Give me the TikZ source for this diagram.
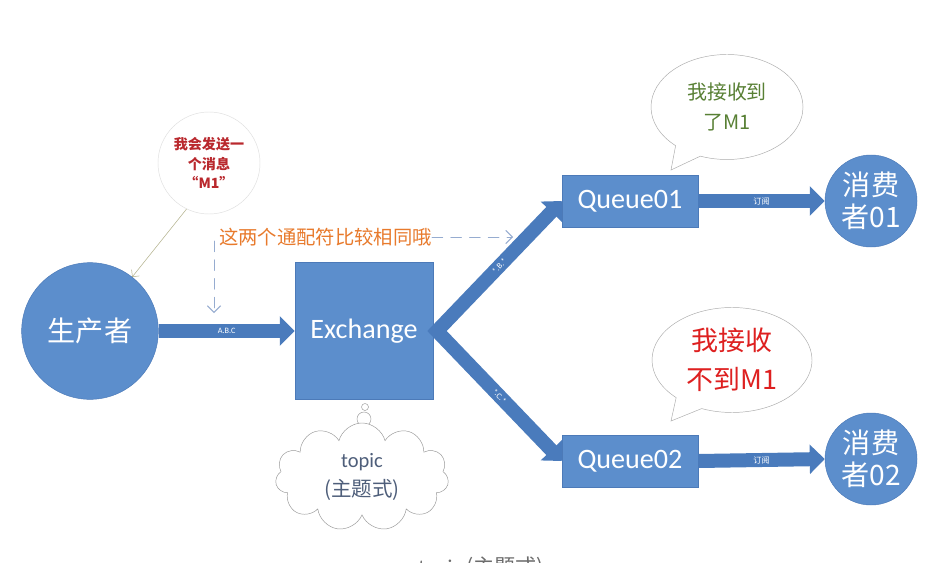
\documentclass[tikz,border=0pt]{standalone}
\usepackage{fontspec}
\setmainfont{Carlito}
\newfontfamily\cjk{Noto Sans CJK SC}
\usetikzlibrary{arrows.meta,shapes.symbols,shapes.callouts}
\definecolor{boxblue}{RGB}{92,142,204}
\definecolor{edgeblue}{RGB}{76,122,184}
\definecolor{flowblue}{RGB}{74,123,188}
\definecolor{hintorange}{RGB}{232,122,44}
\definecolor{dashblue}{RGB}{150,172,208}
\definecolor{notered}{RGB}{185,40,45}
\definecolor{okgreen}{RGB}{88,128,52}
\definecolor{nogored}{RGB}{222,32,32}
\definecolor{cloudtext}{RGB}{78,94,122}
\definecolor{linkolive}{RGB}{172,170,130}

\begin{document}
\begin{tikzpicture}[x=0.03cm,y=-0.03cm,line cap=round,
  role/.style={circle,fill=boxblue,draw=edgeblue,text=white,inner sep=0pt,align=center},
  block/.style={rectangle,fill=boxblue,draw=edgeblue,text=white,inner sep=0pt},
  flow/.style={draw=flowblue,line width=0.42cm,line cap=butt,-{Triangle[length=0.45cm,width=0.86cm]}},
  tag/.style={text=white,font=\fontsize{7}{8}\selectfont,inner sep=1pt},
  bubble/.style={ellipse callout,draw=gray!65,fill=white,align=center,inner sep=0pt,callout pointer arc=22},
  hintline/.style={draw=dashblue,thick,dash pattern=on 9pt off 7pt,-{Straight Barb[length=2mm]}}]
\useasboundingbox[fill=white] (0,0) rectangle (934,562);

% speaker notes
\node[circle,draw=gray!25,fill=white,minimum size=3.06cm,inner sep=0pt,align=center,
  text=notered,font=\cjk\bfseries\fontsize{12}{17}\selectfont] (note) at (209,163) {我会发送一\\个消息\\“M1”};
\node[bubble,minimum width=4.56cm,minimum height=3.15cm,callout absolute pointer={(671,170)},
  text=okgreen,font=\cjk\fontsize{17}{25.5}\selectfont] (say1) at (727,107) {我接收到\\了M1};
\node[bubble,minimum width=4.8cm,minimum height=3.15cm,callout absolute pointer={(671,421)},
  text=nogored,font=\cjk\fontsize{23}{33}\selectfont] (say2) at (732,360) {我接收\\不到M1};

% main nodes
\node[role,minimum size=4.1cm,font=\cjk\fontsize{24}{28}\selectfont] (prod) at (90,331) {生产者};
\node[block,minimum width=4.14cm,minimum height=4.11cm,font=\fontsize{24}{28}\selectfont] (ex) at (364,331) {Exchange};
\node[block,minimum width=4.08cm,minimum height=1.56cm,font=\fontsize{24}{28}\selectfont] (q1) at (630,201) {Queue01};
\node[block,minimum width=4.08cm,minimum height=1.56cm,font=\fontsize{24}{28}\selectfont] (q2) at (630,461) {Queue02};
\node[role,minimum size=2.76cm,font=\cjk\fontsize{24}{27}\selectfont] (c1) at (871,201) {消费\\者01};
\node[role,minimum size=2.76cm,font=\cjk\fontsize{24}{27}\selectfont] (c2) at (871,459) {消费\\者02};

% topic cloud
\node[circle,draw=gray!80,fill=white,minimum size=0.21cm,inner sep=0pt] (puff1) at (365,407) {};
\node[circle,draw=gray!80,fill=white,minimum width=0.36cm,minimum height=0.42cm,inner sep=0pt] (puff2) at (364,419) {};
\node[cloud,cloud puffs=11,aspect=2.1,draw=gray!80,fill=white,minimum width=5.2cm,minimum height=2.6cm,
  text=cloudtext,align=center,font=\fontsize{17.5}{24}\selectfont] (topic) at (362,477) {topic\\{\cjk (主题式)}};

% flows
\coordinate (apex) at (437,331);
\draw[flow] (prod.east) -- node[tag]{A.B.C} (ex.west);
\draw[flow,{Triangle[length=0.45cm,width=0.86cm]}-{Triangle[length=0.45cm,width=0.86cm]},line join=miter]
  (q1.west) -- node[tag,sloped]{*.B.*} (apex) -- node[tag,sloped]{*.C.*} (q2.west);
\draw[flow] (q1.east) -- node[tag]{\cjk 订阅} (c1.west);
\draw[flow] (q2.east) -- node[tag]{\cjk 订阅} (c2.west);

% hint
\node[anchor=west,inner sep=0pt,text=hintorange,font=\cjk\fontsize{16.5}{18}\selectfont] (hint) at (219,237) {这两个通配符比较相同哦};
\coordinate (vtop) at (214,241);
\coordinate (vtip) at (214,313);
\coordinate (htip) at (513,237);
\draw[hintline] (hint.east) -- (htip);
\draw[hintline] (vtop) -- (vtip);
\draw[linkolive,-{Straight Barb[length=1.5mm]}] (note.244) -- (prod.52);

% caption, cut by the page edge
\begin{scope}
\clip (0,0) rectangle (934,562);
\node[anchor=base,text=gray!85!black,font=\fontsize{18}{20}\selectfont] (caption) at (481,574) {topic {\cjk (主题式)}};
\end{scope}
\end{tikzpicture}
\end{document}
